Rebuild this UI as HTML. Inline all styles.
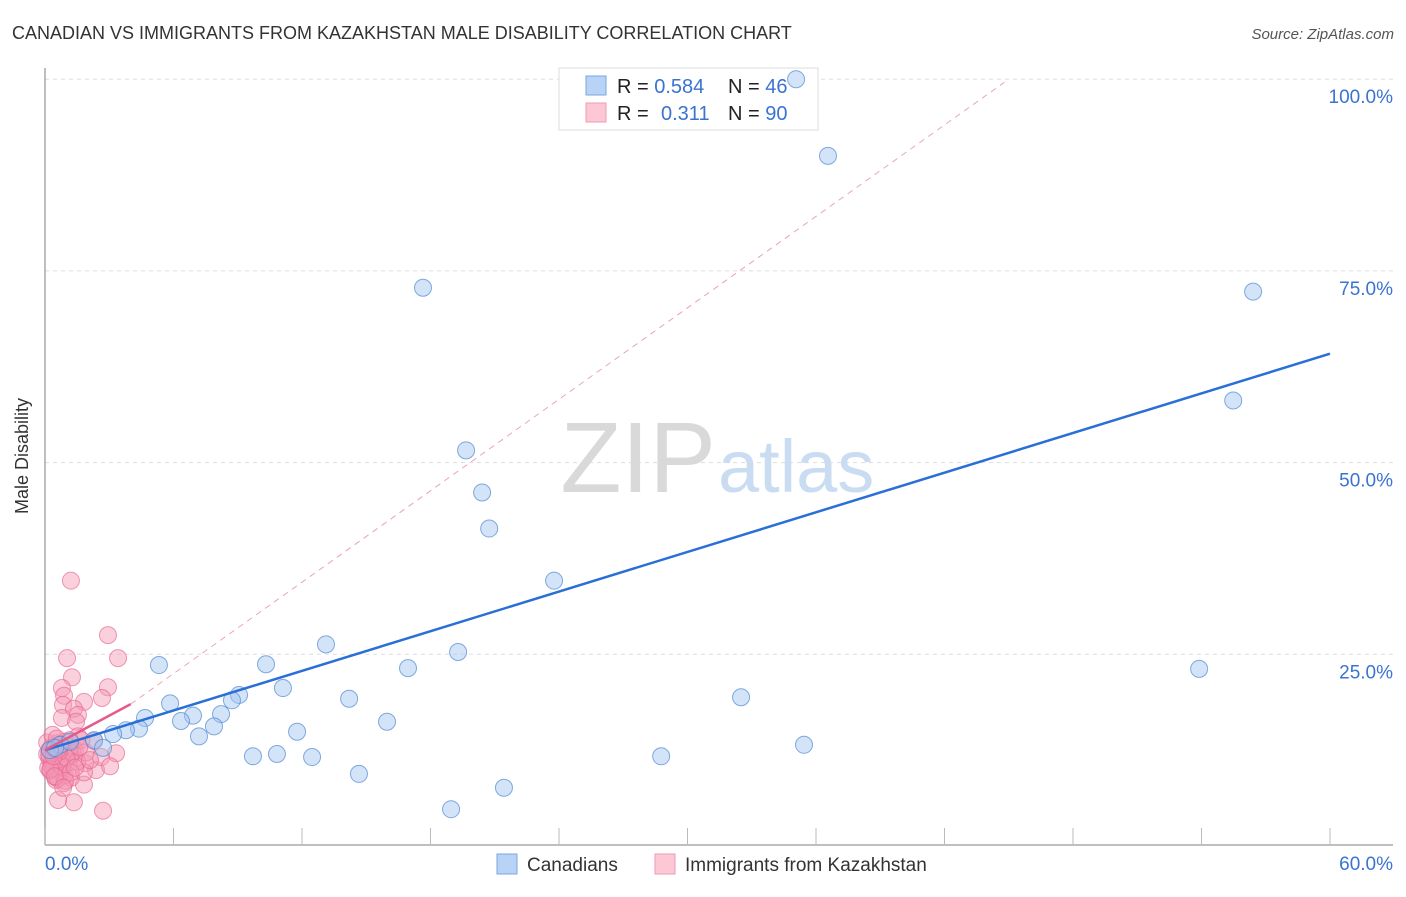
<!DOCTYPE html>
<html><head><meta charset="utf-8"><style>
body{margin:0;background:#fff;font-family:"Liberation Sans",sans-serif;}
svg text{font-family:"Liberation Sans",sans-serif;}
</style></head><body>
<svg id="chart" width="1406" height="892">
<text x="12" y="39" font-size="18" fill="#333">CANADIAN VS IMMIGRANTS FROM KAZAKHSTAN MALE DISABILITY CORRELATION CHART</text>
<text x="1394" y="39" font-size="15" font-style="italic" fill="#555" text-anchor="end">Source: ZipAtlas.com</text>
<text x="28" y="456" font-size="18" fill="#333" text-anchor="middle" transform="rotate(-90 28 456)">Male Disability</text>
<g id="grid"></g>
<text x="716" y="492" font-size="100" font-family="Liberation Serif" fill="#d9d9d9" text-anchor="end">ZIP</text>
<text x="718" y="492" font-size="74" fill="#c9dcf2">atlas</text>
<g id="lines"></g>
<g>
<rect x="559" y="68" width="259" height="62" fill="#fff" stroke="#ddd"/>
<rect x="586" y="76" width="20" height="19" fill="#b8d3f5" stroke="#7aa7e0"/>
<rect x="586" y="103" width="20" height="19" fill="#fcc8d6" stroke="#ef9ab2"/>
<text x="617" y="93" font-size="20" fill="#222">R = <tspan fill="#3a73d0">0.584</tspan><tspan x="728">N = </tspan><tspan fill="#3a73d0">46</tspan></text>
<text x="617" y="120" font-size="20" fill="#222">R = <tspan x="661" fill="#3a73d0">0.311</tspan><tspan x="728">N = </tspan><tspan fill="#3a73d0">90</tspan></text>
</g>
<g id="points"></g>
<g>
<rect x="497" y="854" width="20" height="20" fill="#b8d3f5" stroke="#7aa7e0"/>
<text x="527" y="871" font-size="19" fill="#333">Canadians</text>
<rect x="655" y="854" width="20" height="20" fill="#fcc8d6" stroke="#ef9ab2"/>
<text x="685" y="871" font-size="19" fill="#333">Immigrants from Kazakhstan</text>
</g>
</svg>
<script>
const xTicks=[0,6,12,18,24,30,36,42,48,54,60];
const yTicks=[25,50,75,100];
const blueX=[35.07,36.56,17.65,56.41,55.48,19.66,20.41,20.74,23.77,13.12,19.29,10.32,5.32,16.95,53.89,11.11,32.5,9.06,8.73,14.2,5.84,8.22,6.91,4.67,6.35,15.97,7.89,11.77,4.39,3.78,3.18,7.19,2.29,2.71,35.44,9.71,10.83,12.47,28.77,14.66,21.43,18.96,0.7,0.23,0.47,1.17];
const blueY=[100,90,72.8,72.3,58.1,51.6,46.1,41.4,34.6,26.3,25.3,23.7,23.6,23.2,23.1,20.6,19.4,19.7,19,19.2,18.6,17.2,17,16.7,16.3,16.2,15.6,14.9,15.3,15.1,14.6,14.3,13.8,12.8,13.2,11.7,12,11.6,11.7,9.4,7.6,4.8,13.2,12.5,12.8,13.6];
const pinkX=[1.21,2.94,1.03,3.41,1.26,0.79,2.94,0.89,2.66,1.82,0.84,1.35,1.54,0.79,1.45,2.29,1.54,2.38,2.71,1.35,0.61,1.82,0.89,0.51,1.21,3.32,2.62,1.87,3.04,1.82,
0.1,0.2,0.3,0.4,0.5,0.6,0.7,0.8,0.9,1.0,0.15,0.25,0.35,0.45,0.55,0.65,0.75,0.85,0.95,1.1,0.2,0.3,0.4,0.5,0.6,0.7,0.8,0.9,1.2,1.4,
0.1,0.3,0.5,0.7,0.9,1.1,1.3,1.5,1.7,1.9,0.2,0.4,0.6,0.8,1.0,1.2,1.4,1.6,0.35,0.55,0.75,0.95,0.25,0.45,0.65,2.1,1.15,0.85,0.4,0.6];
const pinkY=[34.6,27.5,24.5,24.5,22,20.6,20.7,19.6,19.3,18.8,18.4,17.9,17.1,16.7,16.2,13.7,14.3,9.9,4.6,5.7,6,8,8.2,8.6,8.9,12.1,11.6,10.8,10.4,9.6,
12,12.5,11,10.5,13,12,11.5,10,12.8,11.2,10.2,9.8,11.8,12.6,13.4,10.8,9.5,11,12.2,13,11.4,12.9,10.1,11.6,12.4,13.1,10.6,9.2,11.8,12.5,
13.5,10.4,9,11.3,13.6,10.9,12.1,11,13.8,12.2,11.9,12.7,8.8,10.3,11.5,9.6,10.2,12.9,14.5,14,13.2,8.5,10,9.1,12.3,11.2,13.8,7.6,11.7,12.6];
const blueTrend=[12.5,64.2];
const pinkTrend=[12.5,18.5];
const pinkTrendEnd=4.0;
const dashed=[[4.0,18.5],[44.8,99.6]];

const X=v=>45+v/60*1285, Y=v=>846-v*7.668;
const NS='http://www.w3.org/2000/svg';
function mk(tag,attrs,parent){const e=document.createElementNS(NS,tag);for(const k in attrs)e.setAttribute(k,attrs[k]);document.getElementById(parent).appendChild(e);return e;}
const svg='grid';
yTicks.forEach(t=>{
 const l=mk('line',{x1:45,x2:1393,y1:Y(t),y2:Y(t),stroke:'#ddd','stroke-dasharray':'4,4'},svg);
 
 
 const tx=mk('text',{x:1393,y:Y(t)+24,'font-size':19,fill:'#3a73d0','text-anchor':'end'},svg);tx.textContent=t.toFixed(1)+'%';
 
 
});
const ax=mk('line',{x1:45,x2:1393,y1:845,y2:845,stroke:'#aaa','stroke-width':1.5},svg);


const ay=mk('line',{x1:45,x2:45,y1:68,y2:845,stroke:'#aaa','stroke-width':1.5},svg);


xTicks.forEach(t=>{
 const l=mk('line',{x1:X(t),x2:X(t),y1:828,y2:845,stroke:'#bbb'},svg);
 
 
});
[[0,'start',45],[60,'end',1393]].forEach(([v,a,px])=>{
 const tx=mk('text',{x:px,y:870,'font-size':19,fill:'#3a73d0','text-anchor':a},svg);tx.textContent=v.toFixed(1)+'%';
 
 
});
const dl=mk('line',{x1:X(dashed[0][0]),y1:Y(dashed[0][1]),x2:X(dashed[1][0]),y2:Y(dashed[1][1]),stroke:'#eaa3b8','stroke-dasharray':'6,5'},'lines');


pinkX.forEach((x,i)=>{
 const c=mk('circle',{cx:X(x),cy:Y(pinkY[i]),r:8.5,fill:'rgba(245,150,180,0.45)',stroke:'rgba(230,100,145,0.65)'},'points');
 
 
});
blueX.forEach((x,i)=>{
 const c=mk('circle',{cx:X(x),cy:Y(blueY[i]),r:8.5,fill:'rgba(160,196,240,0.45)',stroke:'rgba(80,135,210,0.7)'},'points');
 
 
});
const bl=mk('line',{x1:X(0),y1:Y(blueTrend[0]),x2:X(60),y2:Y(blueTrend[1]),stroke:'#2a6fd6','stroke-width':2.5},'points');


const pl=mk('line',{x1:X(0),y1:Y(pinkTrend[0]),x2:X(pinkTrendEnd),y2:Y(pinkTrend[1]),stroke:'#e55a88','stroke-width':2.5},'points');


</script>
</body></html>
